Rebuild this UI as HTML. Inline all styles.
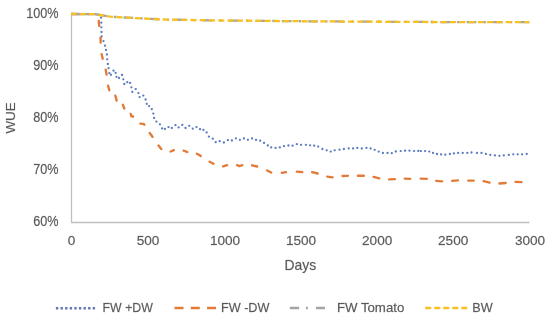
<!DOCTYPE html>
<html><head><meta charset="utf-8"><style>
html,body{margin:0;padding:0;background:#fff;}
body{width:550px;height:327px;overflow:hidden;position:relative;}
svg{position:absolute;left:0;top:0;will-change:transform;}
text{font-family:"Liberation Sans",sans-serif;fill:#595959;stroke:#595959;stroke-width:0.35;stroke-opacity:0.5;}
</style></head><body>
<svg width="550" height="327" viewBox="0 0 550 327">
<text x="58.6" y="17.6" font-size="14.0" text-anchor="end" textLength="32.3" lengthAdjust="spacingAndGlyphs">100%</text>
<text x="58.6" y="69.6" font-size="14.0" text-anchor="end" textLength="25.3" lengthAdjust="spacingAndGlyphs">90%</text>
<text x="58.6" y="121.8" font-size="14.0" text-anchor="end" textLength="25.3" lengthAdjust="spacingAndGlyphs">80%</text>
<text x="58.6" y="173.8" font-size="14.0" text-anchor="end" textLength="25.3" lengthAdjust="spacingAndGlyphs">70%</text>
<text x="58.6" y="226.2" font-size="14.0" text-anchor="end" textLength="25.3" lengthAdjust="spacingAndGlyphs">60%</text>
<text x="71.6" y="245.3" font-size="13.6" text-anchor="middle">0</text>
<text x="148" y="245.3" font-size="13.6" text-anchor="middle">500</text>
<text x="225" y="245.3" font-size="13.6" text-anchor="middle">1000</text>
<text x="301" y="245.3" font-size="13.6" text-anchor="middle">1500</text>
<text x="377.2" y="245.3" font-size="13.6" text-anchor="middle">2000</text>
<text x="453.2" y="245.3" font-size="13.6" text-anchor="middle">2500</text>
<text x="530" y="245.3" font-size="13.6" text-anchor="middle">3000</text>
<text x="300.3" y="270.0" font-size="13.9" text-anchor="middle">Days</text>
<text transform="translate(15.0,117.9) rotate(-90)" font-size="13.4" text-anchor="middle">WUE</text>
<text x="102.6" y="312.2" font-size="12.8" textLength="50.3" lengthAdjust="spacingAndGlyphs">FW +DW</text>
<text x="220.9" y="312.2" font-size="12.8" textLength="48.6" lengthAdjust="spacingAndGlyphs">FW -DW</text>
<text x="336.9" y="312.2" font-size="12.8" textLength="67.4" lengthAdjust="spacingAndGlyphs">FW Tomato</text>
<text x="472.3" y="312.2" font-size="12.8" textLength="20.4" lengthAdjust="spacingAndGlyphs">BW</text>
<path d="M71.5 14 V222.5 H529.5" fill="none" stroke="#bfbfbf" stroke-width="1.3"/>
<g fill="#5b7bc0"><circle cx="101.1" cy="17.7" r="1.15"/><circle cx="101.3" cy="22.7" r="1.15"/><circle cx="101.3" cy="27.3" r="1.15"/><circle cx="101.5" cy="32" r="1.15"/><circle cx="101.6" cy="36.5" r="1.15"/><circle cx="103.5" cy="41.1" r="1.15"/><circle cx="105" cy="45.7" r="1.15"/><circle cx="106" cy="50" r="1.15"/><circle cx="106.9" cy="54.5" r="1.15"/><circle cx="107.2" cy="59.3" r="1.15"/><circle cx="107.9" cy="64.0" r="1.15"/><circle cx="108.6" cy="68.2" r="1.15"/><circle cx="109.4" cy="73.2" r="1.15"/><circle cx="111" cy="74.8" r="1.15"/><circle cx="113.5" cy="70.7" r="1.15"/><circle cx="115.6" cy="72.9" r="1.15"/><circle cx="116.5" cy="76.8" r="1.15"/><circle cx="119" cy="78" r="1.15"/><circle cx="122" cy="75" r="1.15"/><circle cx="123.3" cy="79.3" r="1.15"/><circle cx="124.3" cy="84" r="1.15"/><circle cx="127.3" cy="82.2" r="1.15"/><circle cx="130.1" cy="82.9" r="1.15"/><circle cx="131.4" cy="87.3" r="1.15"/><circle cx="132.3" cy="91.9" r="1.15"/><circle cx="135.7" cy="89.1" r="1.15"/><circle cx="138.4" cy="93.1" r="1.15"/><circle cx="139.6" cy="97.1" r="1.15"/><circle cx="143.3" cy="95.6" r="1.15"/><circle cx="145.6" cy="99.5" r="1.15"/><circle cx="146.7" cy="103.8" r="1.15"/><circle cx="149.1" cy="106.1" r="1.15"/><circle cx="151.8" cy="109.2" r="1.15"/><circle cx="153.3" cy="113.6" r="1.15"/><circle cx="154.1" cy="117.9" r="1.15"/><circle cx="156.4" cy="121.6" r="1.15"/><circle cx="159.9" cy="124.3" r="1.15"/><circle cx="162.1" cy="128.4" r="1.15"/><circle cx="164.9" cy="128.9" r="1.15"/><circle cx="168.5" cy="127.1" r="1.15"/><circle cx="171.8" cy="128" r="1.15"/><circle cx="175.5" cy="125.2" r="1.15"/><circle cx="178.6" cy="127.4" r="1.15"/><circle cx="182.3" cy="124.9" r="1.15"/><circle cx="185.5" cy="128" r="1.15"/><circle cx="189.2" cy="125.8" r="1.15"/><circle cx="192.8" cy="128.6" r="1.15"/><circle cx="196.5" cy="127.1" r="1.15"/><circle cx="200" cy="129.2" r="1.15"/><circle cx="203.4" cy="129.9" r="1.15"/><circle cx="206.6" cy="132.4" r="1.15"/><circle cx="208.9" cy="136.6" r="1.15"/><circle cx="212.8" cy="138.7" r="1.15"/><circle cx="215.7" cy="142.2" r="1.15"/><circle cx="219.7" cy="141.2" r="1.15"/><circle cx="223.9" cy="142.5" r="1.15"/><circle cx="227.9" cy="140.2" r="1.15"/><circle cx="231.9" cy="140.5" r="1.15"/><circle cx="235.9" cy="138.3" r="1.15"/><circle cx="239.9" cy="139.8" r="1.15"/><circle cx="243.9" cy="138.5" r="1.15"/><circle cx="247.9" cy="139.8" r="1.15"/><circle cx="252.1" cy="138.5" r="1.15"/><circle cx="256" cy="139.9" r="1.15"/><circle cx="260.2" cy="140.7" r="1.15"/><circle cx="264" cy="142.9" r="1.15"/><circle cx="267.8" cy="145.5" r="1.15"/><circle cx="271.2" cy="147.4" r="1.15"/><circle cx="275.6" cy="147.9" r="1.15"/><circle cx="279.8" cy="147.4" r="1.15"/><circle cx="284" cy="146.2" r="1.15"/><circle cx="288.4" cy="145.5" r="1.15"/><circle cx="292.6" cy="145.7" r="1.15"/><circle cx="296.8" cy="144.2" r="1.15"/><circle cx="301" cy="144.8" r="1.15"/><circle cx="305.9" cy="144.8" r="1.15"/><circle cx="310.1" cy="145.3" r="1.15"/><circle cx="314.2" cy="145.7" r="1.15"/><circle cx="318.2" cy="146.6" r="1.15"/><circle cx="322.4" cy="149" r="1.15"/><circle cx="326.7" cy="150.3" r="1.15"/><circle cx="330.7" cy="151.6" r="1.15"/><circle cx="334.7" cy="150.3" r="1.15"/><circle cx="339.5" cy="149.7" r="1.15"/><circle cx="343.9" cy="149" r="1.15"/><circle cx="348.7" cy="148.4" r="1.15"/><circle cx="353.1" cy="148.4" r="1.15"/><circle cx="357.3" cy="147.9" r="1.15"/><circle cx="361.8" cy="148.5" r="1.15"/><circle cx="366.4" cy="147.9" r="1.15"/><circle cx="370.6" cy="148.5" r="1.15"/><circle cx="374.7" cy="149.8" r="1.15"/><circle cx="378.7" cy="151.6" r="1.15"/><circle cx="382.9" cy="153" r="1.15"/><circle cx="387.5" cy="153" r="1.15"/><circle cx="391.8" cy="153.2" r="1.15"/><circle cx="395.8" cy="151.5" r="1.15"/><circle cx="400.7" cy="151.1" r="1.15"/><circle cx="405" cy="150.7" r="1.15"/><circle cx="409.5" cy="150.7" r="1.15"/><circle cx="414.1" cy="151.1" r="1.15"/><circle cx="418.3" cy="150.9" r="1.15"/><circle cx="420.9" cy="151.1" r="1.15"/><circle cx="425.1" cy="151.1" r="1.15"/><circle cx="429.3" cy="151.6" r="1.15"/><circle cx="433" cy="152.9" r="1.15"/><circle cx="437" cy="154" r="1.15"/><circle cx="441.1" cy="154.4" r="1.15"/><circle cx="445.3" cy="154.7" r="1.15"/><circle cx="449.9" cy="154" r="1.15"/><circle cx="453.9" cy="153.4" r="1.15"/><circle cx="458.1" cy="152.9" r="1.15"/><circle cx="462.7" cy="152.9" r="1.15"/><circle cx="467.3" cy="152.9" r="1.15"/><circle cx="471.5" cy="152.5" r="1.15"/><circle cx="477" cy="152.9" r="1.15"/><circle cx="481.5" cy="152.9" r="1.15"/><circle cx="485.9" cy="153.9" r="1.15"/><circle cx="490.3" cy="154.9" r="1.15"/><circle cx="494.9" cy="155.4" r="1.15"/><circle cx="499.4" cy="155.8" r="1.15"/><circle cx="503.8" cy="155.4" r="1.15"/><circle cx="508.8" cy="154.9" r="1.15"/><circle cx="513.3" cy="154.3" r="1.15"/><circle cx="517.7" cy="154.3" r="1.15"/><circle cx="522.1" cy="154.3" r="1.15"/><circle cx="526.7" cy="153.9" r="1.15"/></g>
<path d="M98.7 20.8 L99.2 25.8M100.5 37.6 L100.7 42.6M101.6 54.1 L102.7 58.7M105.7 69.6 L106.6 74.6M108.1 85.7 L109.3 90.2M115.3 95.6 L116.7 100.6M122.9 104.8 L124.3 108.5M130.7 113.9 L131.4 116.3 L133.1 116.5M140.4 123.6 L143.5 123.9 L144.3 124.7M149.7 133.0 L152.5 136.7M158.5 145.6 L161.3 149.0M170.6 151.5 L173.9 150.2M183.6 150.7 L187.3 152.0M196.8 153.7 L198.5 154.5 L200.7 156.0M209.6 161.8 L213.5 163.8M223.1 166.4 L227.1 165.1M237.1 165.2 L239.5 166.1 L242.3 165.2M252.1 165.3 L257.1 166.5M267.1 170.5 L271.2 172.5M281.8 172.8 L286.0 172.1M296.8 171.7 L302.3 172.2M312.1 172.2 L317.6 173.5M327.3 176.6 L332.6 177.4M342.5 176.0 L347.9 175.8M357.9 175.7 L363.8 175.7M373.6 176.9 L379.2 178.4M389.1 179.4 L394.9 179.2M404.8 178.6 L410.2 178.8M420.7 178.6 L426.8 178.9M436.3 180.8 L442.1 181.3M452.2 180.9 L458.0 180.4M468.3 180.6 L473.7 180.6M483.6 181.2 L489.6 182.6M499.4 183.5 L505.7 183.0M515.5 181.9 L521.5 182.1" fill="none" stroke="#e27b38" stroke-width="2.35" stroke-linejoin="round" stroke-linecap="round"/>
<polyline points="71.0,14.0 95.0,14.1 100.0,15.0" fill="none" stroke="#a5a5a5" stroke-width="2.3"/>
<polyline points="71.0,14.0 95.0,14.1 100.0,15.0 104.0,15.6 110.0,16.6 124.0,17.5 140.0,18.3 150.0,18.8 165.0,19.5 210.0,20.4 255.0,20.8 295.0,21.2 355.0,21.6 405.0,21.9 455.0,22.1 515.0,22.2 529.5,22.2" fill="none" stroke="#a5a5a5" stroke-width="2.3" stroke-dasharray="9.6 7.2 2.4 7.2"/>
<polyline points="71.0,14.0 95.0,14.1 100.0,15.0 104.0,15.6 110.0,16.6 124.0,17.5 140.0,18.3 150.0,18.8 165.0,19.5 210.0,20.4 255.0,20.8 295.0,21.2 355.0,21.6 405.0,21.9 455.0,22.1 515.0,22.2 529.5,22.2" fill="none" stroke="#f8c020" stroke-width="2.3" stroke-dasharray="6.1 3.17" stroke-dashoffset="0.76"/>
<line x1="55.9" y1="308.2" x2="95.2" y2="308.2" stroke="#6478b0" stroke-width="2.5" stroke-dasharray="2.4 2.2"/>
<line x1="174.5" y1="308.1" x2="216" y2="308.1" stroke="#e27b38" stroke-width="2.5" stroke-dasharray="9 7.3"/>
<line x1="289.8" y1="308.1" x2="325" y2="308.1" stroke="#a5a5a5" stroke-width="2.5" stroke-dasharray="9.3 6.8 2 8"/>
<line x1="425.3" y1="308.1" x2="468" y2="308.1" stroke="#f8c020" stroke-width="2.5" stroke-dasharray="6 3"/>
</svg>
</body></html>
